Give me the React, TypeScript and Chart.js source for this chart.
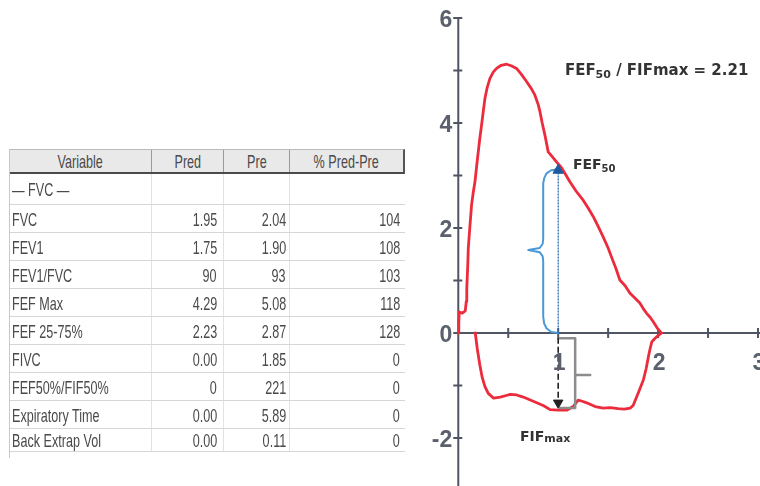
import React, { useEffect, useRef } from "react";
import { Chart, registerables } from "chart.js";
Chart.register(...registerables);

// ---- Flow-volume loop data (volume L, flow L/s) ----
const expVolume = [0, 0.005, 0.01, 0.04, 0.07, 0.08, 0.085, 0.095, 0.1, 0.115, 0.133, 0.15, 0.167, 0.185, 0.2, 0.215, 0.233, 0.25, 0.267, 0.29, 0.317, 0.35, 0.383, 0.43, 0.483, 0.53, 0.583, 0.63, 0.683, 0.73, 0.767, 0.8, 0.817, 0.84, 0.867, 0.9, 0.94, 0.983, 1.033, 1.08, 1.117, 1.18, 1.25, 1.3, 1.35, 1.4, 1.45, 1.5, 1.533, 1.58, 1.617, 1.67, 1.717, 1.77, 1.817, 1.85, 1.883, 1.92, 1.95, 1.99, 2.033];
const expFlow = [0, 0.2, 0.4, 0.38, 0.42, 0.6, 0.85, 1.3, 1.61, 2.0, 2.44, 2.68, 2.88, 3.2, 3.45, 3.7, 3.96, 4.22, 4.47, 4.68, 4.85, 4.97, 5.04, 5.1, 5.12, 5.09, 5.04, 4.93, 4.79, 4.66, 4.53, 4.35, 4.22, 4.0, 3.77, 3.45, 3.36, 3.26, 3.15, 3.0, 2.88, 2.7, 2.53, 2.38, 2.22, 2.03, 1.83, 1.62, 1.45, 1.22, 1.01, 0.9, 0.76, 0.66, 0.57, 0.47, 0.38, 0.3, 0.22, 0.1, 0];

const inspVolume = [2.033, 2.0, 1.97, 1.937, 1.92, 1.903, 1.88, 1.853, 1.82, 1.787, 1.75, 1.72, 1.66, 1.6, 1.52, 1.45, 1.37, 1.285, 1.24, 1.2, 1.15, 1.085, 1.0, 0.92, 0.85, 0.75, 0.65, 0.585, 0.52, 0.48, 0.42, 0.353, 0.3, 0.267, 0.24, 0.215, 0.19, 0.17];
const inspFlow = [0, -0.05, -0.1, -0.17, -0.3, -0.45, -0.68, -0.89, -1.05, -1.21, -1.38, -1.43, -1.45, -1.44, -1.42, -1.43, -1.4, -1.33, -1.3, -1.28, -1.4, -1.47, -1.47, -1.46, -1.38, -1.3, -1.22, -1.18, -1.17, -1.19, -1.22, -1.24, -1.15, -1.02, -0.85, -0.6, -0.3, 0];

// FEF50 marker and FIFmax arrow
const fef50Volume = [1.0];
const fef50Flow = [3.1];
const fef50LineVolume = [1.0, 1.0];
const fef50LineFlow = [0, 3.1];
const braceVolume = [1.0, 0.93, 0.883, 0.86, 0.85, 0.85, 0.845, 0.815, 0.7, 0.815, 0.845, 0.85, 0.85, 0.86, 0.883, 0.93, 1.0];
const braceFlow = [3.12, 3.1, 3.04, 2.95, 2.85, 1.8, 1.7, 1.62, 1.58, 1.54, 1.46, 1.36, 0.31, 0.18, 0.09, 0.02, 0];
const fifArrowVolume = [1.0, 1.0];
const fifArrowFlow = [-0.1, -1.26];
const fifHeadVolume = [1.0];
const fifHeadFlow = [-1.33];
const bracketVolume = [1.0, 1.17, 1.17, 1.02];
const bracketFlow = [-0.1, -0.1, -1.43, -1.43];
const bracketTickVolume = [1.17, 1.32];
const bracketTickFlow = [-0.8, -0.8];

// axis ticks
const yTickValues = [-2, -1, 0, 1, 2, 3, 4, 5, 6];
const yTickLabels = ["-2", "", "0", "", "2", "", "4", "", "6"];
const xTickValues = [0.5, 1, 1.5, 2, 2.5, 3];
const xTickLabels = ["", "1", "", "2", "", "3"];

// ---- Table data ----
const tableHeaders = ["Variable", "Pred", "Pre", "% Pred-Pre"];
const sectionLabel = "— FVC —";
const variables = ["FVC", "FEV1", "FEV1/FVC", "FEF Max", "FEF 25-75%", "FIVC", "FEF50%/FIF50%", "Expiratory Time", "Back Extrap Vol"];
const predValues = ["1.95", "1.75", "90", "4.29", "2.23", "0.00", "0", "0.00", "0.00"];
const preValues = ["2.04", "1.90", "93", "5.08", "2.87", "1.85", "221", "5.89", "0.11"];
const pctValues = ["104", "108", "103", "118", "128", "0", "0", "0", "0"];

const RED = "#ec2b3c";

const pts = (xs: number[], ys: number[]) => xs.map((x, i) => ({ x, y: ys[i] }));

function drawParts(ctx: CanvasRenderingContext2D, x: number, y: number, parts: { t: string; size: number; dy?: number }[], family: string) {
  let cx = x;
  for (const p of parts) {
    ctx.font = `bold ${p.size}px ${family}`;
    ctx.fillText(p.t, cx, y + (p.dy || 0));
    cx += ctx.measureText(p.t).width;
  }
}

const axesPlugin = {
  id: "axesPlugin",
  beforeDatasetsDraw(chart: any) {
    const { ctx, chartArea } = chart;
    const xs = chart.scales.x;
    const ys = chart.scales.y;
    const x0 = xs.getPixelForValue(0);
    const y0 = ys.getPixelForValue(0);
    ctx.save();
    ctx.strokeStyle = "#4f5563";
    ctx.lineWidth = 2;
    ctx.beginPath();
    ctx.moveTo(x0, ys.getPixelForValue(6));
    ctx.lineTo(x0, chartArea.bottom);
    ctx.moveTo(x0, y0);
    ctx.lineTo(chartArea.right, y0);
    ctx.stroke();
    ctx.beginPath();
    yTickValues.forEach((v) => {
      const py = ys.getPixelForValue(v);
      ctx.moveTo(x0 - 5, py);
      ctx.lineTo(x0 + 4, py);
    });
    xTickValues.forEach((v) => {
      const px = xs.getPixelForValue(v);
      ctx.moveTo(px, y0 - 5);
      ctx.lineTo(px, y0 + 5);
    });
    ctx.stroke();
    ctx.restore();
  },
  afterDatasetsDraw(chart: any) {
    const { ctx } = chart;
    const xs = chart.scales.x;
    const ys = chart.scales.y;
    const x0 = xs.getPixelForValue(0);
    const y0 = ys.getPixelForValue(0);
    ctx.save();
    ctx.fillStyle = "#5a606c";
    ctx.font = 'bold 23px "Liberation Sans", Arial, sans-serif';
    ctx.textAlign = "right";
    ctx.textBaseline = "middle";
    yTickValues.forEach((v, i) => {
      if (yTickLabels[i]) ctx.fillText(yTickLabels[i], x0 - 6, ys.getPixelForValue(v) + 3);
    });
    ctx.textAlign = "center";
    xTickValues.forEach((v, i) => {
      if (xTickLabels[i]) ctx.fillText(xTickLabels[i], xs.getPixelForValue(v) + 1, y0 + 31);
    });
    // annotations
    ctx.textAlign = "left";
    ctx.textBaseline = "alphabetic";
    ctx.fillStyle = "#333";
    const fam = '"DejaVu Sans"';
    drawParts(ctx, xs.getPixelForValue(1.067), ys.getPixelForValue(4.91), [
      { t: "FEF", size: 15 },
      { t: "50", size: 11, dy: 3 },
      { t: " / FIFmax = 2.21", size: 15 },
    ], fam);
    drawParts(ctx, xs.getPixelForValue(1.147), ys.getPixelForValue(3.12), [
      { t: "FEF", size: 14 },
      { t: "50", size: 10, dy: 3 },
    ], fam);
    drawParts(ctx, xs.getPixelForValue(0.617), ys.getPixelForValue(-2.05), [
      { t: "FIF", size: 14 },
      { t: "max", size: 11, dy: 1 },
    ], fam);
    ctx.restore();
  },
};

function ChartCanvas() {
  const ref = useRef<HTMLCanvasElement>(null);
  useEffect(() => {
    const canvas = ref.current!;
    const line = (data: any[], color: string, width: number, dash: number[] = []) => ({
      data,
      showLine: true,
      borderColor: color,
      borderWidth: width,
      borderDash: dash,
      pointRadius: 0,
      pointHoverRadius: 0,
      fill: false,
      tension: 0,
      borderJoinStyle: "round",
      borderCapStyle: "round",
    });
    const chart = new Chart(canvas, {
      type: "scatter",
      data: {
        datasets: [
          { data: pts(fef50Volume, fef50Flow), pointStyle: "triangle", pointRadius: 6, backgroundColor: "#1f5a9e", borderColor: "#1f5a9e", borderWidth: 1, showLine: false } as any,
          { data: pts(fifHeadVolume, fifHeadFlow), pointStyle: "triangle", rotation: 180, pointRadius: 5.5, backgroundColor: "#222", borderColor: "#222", borderWidth: 1, showLine: false } as any,
          line(pts(fifArrowVolume, fifArrowFlow), "#222", 1.6, [5, 4]),
          line(pts(bracketVolume, bracketFlow), "#8c8c8c", 2.5),
          line(pts(bracketTickVolume, bracketTickFlow), "#8c8c8c", 2.5),
          line(pts(fef50LineVolume, fef50LineFlow), "#2f6fb5", 1.3, [1, 2]),
          line(pts(braceVolume, braceFlow), "#4a98d6", 2),
          line(pts(expVolume, expFlow), RED, 2.8),
          line(pts(inspVolume, inspFlow), RED, 2.8),
        ],
      },
      options: {
        animation: false,
        responsive: false,
        devicePixelRatio: 1,
        events: [],
        layout: { autoPadding: false, padding: { left: 440, right: 0, top: 0, bottom: 0 } },
        plugins: { legend: { display: false }, tooltip: { enabled: false } },
        scales: {
          x: { type: "linear", display: false, min: -0.183, max: 3.02 },
          y: { type: "linear", display: false, min: -2.914, max: 6.343 },
        },
      } as any,
      plugins: [axesPlugin as any],
    });
    return () => chart.destroy();
  }, []);
  return <canvas ref={ref} width={760} height={486} style={{ position: "absolute", left: 0, top: 0, width: 760, height: 486 }} />;
}

const colWidths = [143, 72, 66, 113];
const colAlign = ["left", "right", "right", "right"];
const colPadRight = [0, 6, 3, 3];

function Txt({ children, origin }: { children: any; origin: string }) {
  return (
    <span style={{ display: "inline-block", whiteSpace: "nowrap", transform: "scale(0.9, 1.3)", transformOrigin: origin }}>{children}</span>
  );
}

function DataTable() {
  const cellBase: any = { boxSizing: "border-box", height: "100%", display: "flex", alignItems: "center", overflow: "visible" };
  const rows = variables.map((v, i) => [v, predValues[i], preValues[i], pctValues[i]]);
  return (
    <div style={{ position: "absolute", left: 9, top: 149, width: 396, fontFamily: '"Liberation Sans", Arial, sans-serif', fontSize: 14, color: "#4a4a4a", borderLeft: "1px solid #c8c8c8", boxSizing: "border-box" }}>
      <div style={{ display: "flex", height: 25, boxSizing: "border-box", background: "#e9e9e9", borderTop: "1px solid #bbb", borderBottom: "2px solid #4a4a4a", borderRight: "2px solid #555" }}>
        {tableHeaders.map((h, i) => (
          <div key={h} style={{ ...cellBase, width: colWidths[i] - (i === 0 ? 1 : 0), justifyContent: "center", borderRight: i < 3 ? "1px solid #9a9a9a" : "none" }}>
            <Txt origin="center">{h}</Txt>
          </div>
        ))}
      </div>
      <div style={{ display: "flex", height: 31, boxSizing: "border-box", borderBottom: "1px solid #d6d6d6" }}>
        {colWidths.map((w, i) => (
          <div key={i} style={{ ...cellBase, width: w - (i === 0 ? 1 : 0), paddingLeft: 2, borderRight: i < 3 ? "1px solid #e2e2e2" : "none" }}>
            {i === 0 ? <Txt origin="left center">{sectionLabel}</Txt> : null}
          </div>
        ))}
      </div>
      {rows.map((r, ri) => (
        <div key={ri} style={{ display: "flex", height: ri === rows.length - 1 ? 23 : 28, boxSizing: "border-box", borderBottom: "1px solid #d6d6d6" }}>
          {r.map((c, i) => (
            <div key={i} style={{ ...cellBase, width: colWidths[i] - (i === 0 ? 1 : 0), justifyContent: colAlign[i] === "left" ? "flex-start" : "flex-end", paddingLeft: i === 0 ? 2 : 0, paddingRight: colPadRight[i], borderRight: i < 3 ? "1px solid #e2e2e2" : "none" }}>
              <Txt origin={colAlign[i] === "left" ? "left center" : "right center"}>{c}</Txt>
            </div>
          ))}
        </div>
      ))}
      <div style={{ height: 6 }} />
    </div>
  );
}

export default function App() {
  return (
    <div style={{ position: "fixed", left: 0, top: 0, width: 760, height: 486, background: "#fff", overflow: "hidden" }}>
      <ChartCanvas />
      <DataTable />
    </div>
  );
}
